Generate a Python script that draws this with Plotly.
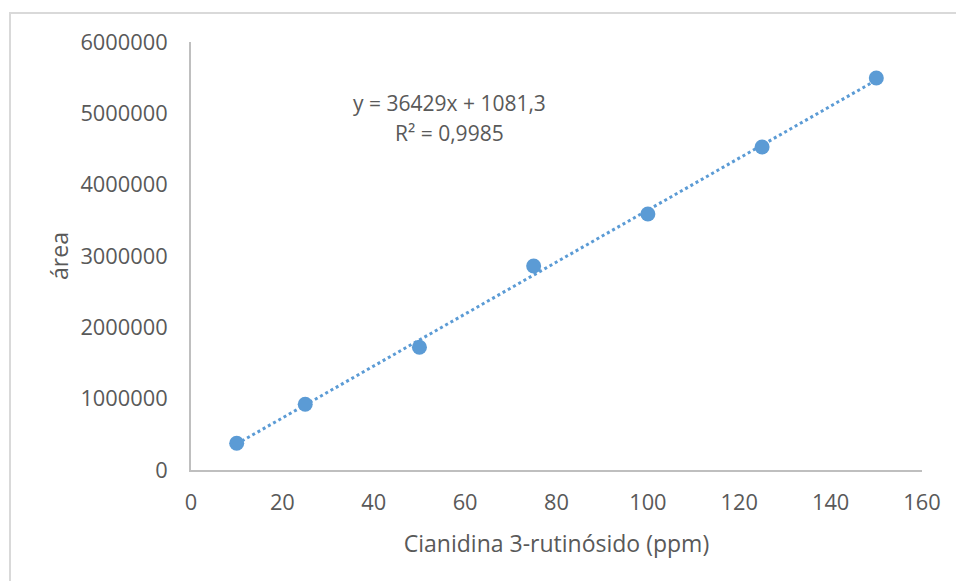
import plotly.graph_objects as go

# Calibration data: cyanidin 3-rutinoside concentration vs. peak area
concentracion = [10, 25, 50, 75, 100, 125, 150]
area = [374000, 921000, 1720000, 2860000, 3589000, 4528000, 5495000]

# Linear trendline as reported
pendiente = 36429
intercepto = 1081.3
r2_texto = "0,9985"

x_ticks = [0, 20, 40, 60, 80, 100, 120, 140, 160]
y_ticks = [0, 1000000, 2000000, 3000000, 4000000, 5000000, 6000000]

azul = "#5B9BD5"
gris_texto = "#595959"
gris_eje = "#BFBFBF"
fuente = "Open Sans"

x_trend = [min(concentracion), max(concentracion)]
y_trend = [pendiente * x + intercepto for x in x_trend]

fig = go.Figure()
fig.add_trace(go.Scatter(
    x=x_trend, y=y_trend, mode="lines",
    line=dict(color=azul, width=3, dash="dot"),
    hoverinfo="skip", showlegend=False,
))
fig.add_trace(go.Scatter(
    x=concentracion, y=area, mode="markers",
    marker=dict(color=azul, size=15),
    showlegend=False,
))

# Trendline equation and R² labels
ecuacion = f"y = {pendiente}x + {str(intercepto).replace('.', ',')}"
fig.add_annotation(
    x=0.353, y=0.8575, xref="paper", yref="paper",
    xanchor="center", yanchor="middle",
    text=ecuacion, showarrow=False,
    font=dict(family=fuente, size=21, color=gris_texto),
)
fig.add_annotation(
    x=0.353, y=0.787, xref="paper", yref="paper",
    xanchor="center", yanchor="middle",
    text=f"R² = {r2_texto}", showarrow=False,
    font=dict(family=fuente, size=21, color=gris_texto),
)

# Outer chart border
fig.add_shape(
    type="rect", xref="paper", yref="paper",
    x0=-0.2476, x1=1.1, y0=-0.3, y1=1.0677,
    line=dict(color="#D9D9D9", width=2), layer="below",
)

fig.update_layout(
    width=956, height=581,
    margin=dict(l=191, r=34, t=42, b=111),
    paper_bgcolor="white", plot_bgcolor="white",
    font=dict(family=fuente, size=22, color=gris_texto),
    xaxis=dict(
        range=[0, 160], tickvals=x_ticks, showgrid=False, zeroline=False,
        showline=True, linecolor=gris_eje, linewidth=2, ticks="",
        tickfont=dict(size=21.8, color=gris_texto), ticklabelstandoff=12,
        title=dict(text="Cianidina 3-rutinósido (ppm)", standoff=21,
                   font=dict(size=23, color=gris_texto)),
    ),
    yaxis=dict(
        range=[0, 6000000], tickvals=y_ticks, tickformat="d",
        showgrid=False, zeroline=False,
        showline=True, linecolor=gris_eje, linewidth=2, ticks="",
        tickfont=dict(size=21.8, color=gris_texto), ticklabelstandoff=17,
        title=dict(text="área", standoff=5,
                   font=dict(size=23, color=gris_texto)),
    ),
)

fig.write_html("out.html")
